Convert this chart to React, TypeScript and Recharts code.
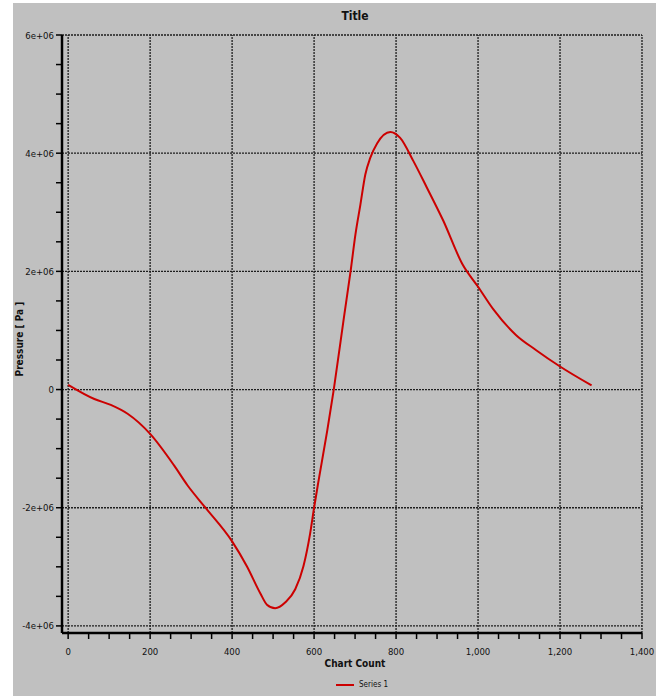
import React from "react"
import { LineChart, Line, XAxis, YAxis, ReferenceLine } from "recharts"

// values (Chart Count vs Pressure [Pa])
const chartCount = [
  0, 64, 104, 145, 200, 258, 291, 335, 400, 436, 469, 485, 505, 530, 554, 574, 590, 600, 610, 632,
  648, 673, 689, 701, 713, 725, 737, 754, 786, 810, 842, 875, 915, 962, 1000, 1037, 1093, 1141, 1200, 1277,
]
const pressure = [
  0.08e6, -0.16e6, -0.26e6, -0.41e6, -0.75e6, -1.28e6, -1.62e6, -2.0e6, -2.57e6, -2.99e6, -3.45e6,
  -3.64e6, -3.7e6, -3.6e6, -3.38e6, -2.99e6, -2.45e6, -2.0e6, -1.58e6, -0.7e6,
  0, 1.23e6, 2.0e6, 2.63e6, 3.13e6, 3.64e6, 3.92e6, 4.17e6, 4.36e6, 4.26e6,
  3.87e6, 3.42e6, 2.86e6, 2.12e6, 1.74e6, 1.36e6, 0.92e6, 0.67e6, 0.39e6, 0.07e6,
]

const xTicks = [
  0, 50, 100, 150, 200, 250, 300, 350, 400, 450, 500, 550, 600, 650, 700, 750, 800, 850, 900, 950,
  1000, 1050, 1100, 1150, 1200, 1250, 1300, 1350, 1400,
]
const xMajor = [0, 200, 400, 600, 800, 1000, 1200, 1400]
const yTicks = [
  -4e6, -3.5e6, -3e6, -2.5e6, -2e6, -1.5e6, -1e6, -0.5e6, 0, 0.5e6, 1e6, 1.5e6, 2e6, 2.5e6, 3e6,
  3.5e6, 4e6, 4.5e6, 5e6, 5.5e6, 6e6,
]
const yMajor = [-4e6, -2e6, 0, 2e6, 4e6, 6e6]

const data = chartCount.map((c, i) => ({ count: c, p: pressure[i] }))

const FONT = "'DejaVu Sans Condensed', 'DejaVu Sans', sans-serif"
const GRID = "#1e1e1e"

function fmtY(v: number) {
  if (v === 0) return "0"
  const m = v / 1e6
  return `${m}e+06`
}

function XTick(props: any) {
  const { x, y, payload } = props
  const major = xMajor.includes(payload.value)
  return (
    <g>
      <line x1={x} y1={y} x2={x} y2={y + 6} stroke="#000" strokeWidth={1.5} />
      {major && (
        <text x={x} y={y + 22} textAnchor="middle" fontSize={9.5} fontFamily={FONT} fill="#111">
          {payload.value.toLocaleString("en-US")}
        </text>
      )}
    </g>
  )
}

function YTick(props: any) {
  const { x, y, payload } = props
  const major = yMajor.includes(payload.value)
  return (
    <g>
      <line x1={x - 6} y1={y} x2={x} y2={y} stroke="#000" strokeWidth={1.5} />
      {major && (
        <text x={x - 8} y={y + 3.5} textAnchor="end" fontSize={9.5} fontFamily={FONT} fill="#111">
          {fmtY(payload.value)}
        </text>
      )}
    </g>
  )
}

export default function App() {
  return (
    <div style={{ position: "absolute", left: 0, top: 0, width: 665, height: 696, background: "#fff" }}>
      <div style={{ position: "absolute", left: 13, top: 3, width: 643, height: 693, background: "#c0c0c0" }} />
      <div style={{ position: "absolute", left: 0, top: 0 }}>
        <LineChart width={665} height={696} data={data} margin={{ top: 35, right: 23, bottom: 33, left: 20 }}>
          <XAxis
            dataKey="count"
            type="number"
            domain={[-15, 1400]}
            allowDataOverflow
            ticks={xTicks}
            interval={0}
            tickSize={0}
            tickMargin={0}
            tickLine={false}
            tick={<XTick />}
            height={30}
            axisLine={{ stroke: "#000", strokeWidth: 2.5 }}
          />
          <YAxis
            type="number"
            domain={[-4.12e6, 6e6]}
            allowDataOverflow
            ticks={yTicks}
            interval={0}
            tickSize={0}
            tickMargin={0}
            tickLine={false}
            tick={<YTick />}
            width={42}
            axisLine={{ stroke: "#000", strokeWidth: 2.5 }}
          />
          {xMajor.map((v) => (
            <ReferenceLine key={"vx" + v} x={v} stroke={GRID} strokeWidth={1.3} strokeDasharray="2 1" />
          ))}
          {yMajor.map((v) => (
            <ReferenceLine key={"hy" + v} y={v} stroke={GRID} strokeWidth={1.3} strokeDasharray="2 1" />
          ))}
          <Line
            type="monotone"
            dataKey="p"
            stroke="#cc0000"
            strokeWidth={2}
            dot={false}
            isAnimationActive={false}
          />
        </LineChart>
      </div>
      <div style={{ position: "absolute", left: 0, width: 710, top: 9, textAlign: "center", fontFamily: FONT, fontWeight: "bold", fontSize: 12, color: "#111" }}>
        Title
      </div>
      <div style={{ position: "absolute", left: 0, width: 710, top: 658, textAlign: "center", fontFamily: FONT, fontWeight: "bold", fontSize: 10, color: "#111" }}>
        Chart Count
      </div>
      <div
        style={{
          position: "absolute",
          left: 19,
          top: 339,
          transform: "translate(-50%, -50%) rotate(-90deg)",
          whiteSpace: "nowrap",
          fontFamily: FONT,
          fontWeight: "bold",
          fontSize: 10,
          color: "#111",
        }}
      >
        Pressure [ Pa ]
      </div>
      <div style={{ position: "absolute", left: 336, top: 680, display: "flex", alignItems: "center", fontFamily: FONT, fontSize: 8, color: "#111" }}>
        <span style={{ display: "inline-block", width: 18, height: 2, background: "#cc0000", marginRight: 5 }} />
        Series 1
      </div>
    </div>
  )
}
